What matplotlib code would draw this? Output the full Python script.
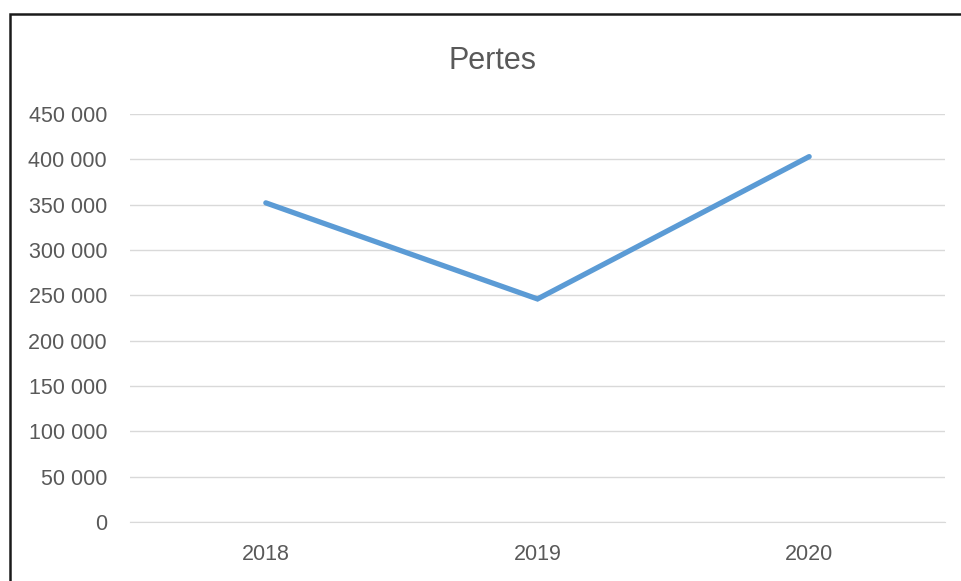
import matplotlib
matplotlib.use('Agg')
import matplotlib.pyplot as plt
from matplotlib.patches import Rectangle
from matplotlib.ticker import FuncFormatter

# Data
years = ['2018', '2019', '2020']
pertes = [352000, 246000, 403000]
y_ticks = list(range(0, 450001, 50000))

plt.rcParams['font.family'] = ['Liberation Sans', 'DejaVu Sans']

fig = plt.figure(figsize=(9.61, 5.81), dpi=100)
ax = fig.add_axes([130 / 961, 1 - 522 / 581, 815 / 961, 408 / 581])

ax.plot(range(len(years)), pertes, color='#5b9bd5', linewidth=3.8,
        solid_capstyle='round', solid_joinstyle='miter', zorder=3)

ax.set_xlim(-0.5, len(years) - 0.5)
ax.set_ylim(0, 450000)
ax.set_xticks(range(len(years)))
ax.set_xticklabels(years)
ax.set_yticks(y_ticks)
ax.yaxis.set_major_formatter(FuncFormatter(lambda v, p: f'{int(v):,}'.replace(',', ' ')))

ax.grid(axis='y', color='#d9d9d9', linewidth=1)
ax.set_axisbelow(True)
for s in ['top', 'right', 'left']:
    ax.spines[s].set_visible(False)
ax.spines['bottom'].set_color('#d9d9d9')
ax.tick_params(axis='both', length=0, labelsize=15.5, colors='#595959')
ax.tick_params(axis='y', pad=16.5)
ax.tick_params(axis='x', pad=16)

fig.text(0.513, 1 - 61 / 581, 'Pertes', ha='center', va='center',
         fontsize=22, color='#595959')

# outer chart border (cut off on the right and bottom)
fig.patches.append(Rectangle((9.5 / 961, -0.1), 1.2, 1.1 - 14.5 / 581,
                             transform=fig.transFigure, fill=False,
                             edgecolor='#1a1a1a', linewidth=1.8))

fig.savefig('out.png', dpi=100)
